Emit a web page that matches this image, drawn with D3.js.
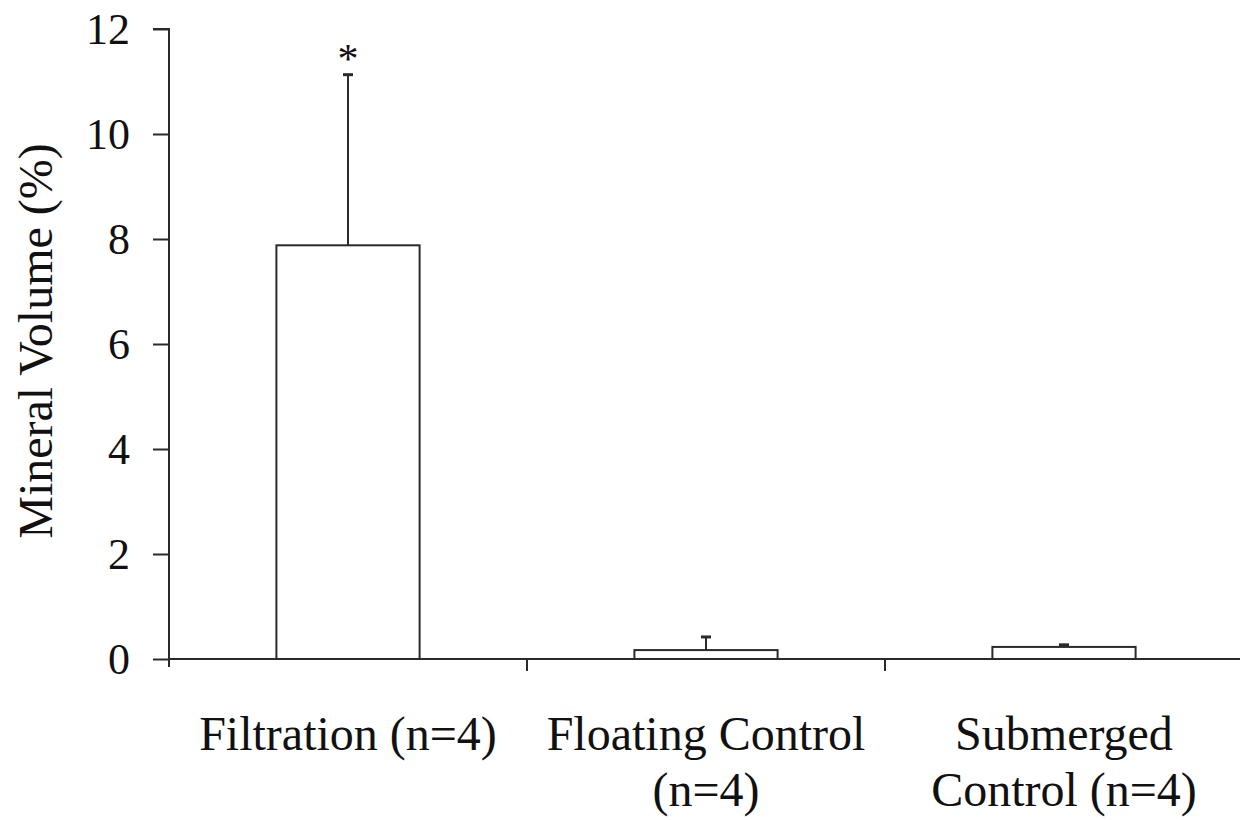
<!DOCTYPE html>
<html><head><meta charset="utf-8">
<script src="https://cdn.jsdelivr.net/npm/d3@7/dist/d3.min.js"></script>
<style>body{margin:0;background:#fff}svg{display:block}</style>
</head><body>
<svg id="c" width="1247" height="820"></svg>
<script>
const categories = ["Filtration (n=4)", "Floating Control (n=4)", "Submerged Control (n=4)"];
const labelLines = [["Filtration (n=4)"], ["Floating Control", "(n=4)"], ["Submerged", "Control (n=4)"]];
const means = [7.88, 0.17, 0.23];
const errors = [3.25, 0.25, 0.04];
const significance = ["*", "", ""];
const yTicks = [0, 2, 4, 6, 8, 10, 12];

(function () {
const svg = d3.select("#c");
const mLeft = 169, mRight = 1243, mTop = 29, mBottom = 659;
const font = "'Liberation Serif', 'Times New Roman', serif";
const ink = "#2a2a2a";

const x = d3.scaleBand().domain(categories).range([mLeft, mRight]).paddingInner(0.6).paddingOuter(0.3);
const y = d3.scaleLinear().domain([0, 12]).range([mBottom, mTop]);

// bars
svg.selectAll("rect.bar").data(categories).join("rect")
  .attr("x", d => x(d)).attr("width", x.bandwidth())
  .attr("y", (d, i) => y(means[i])).attr("height", (d, i) => y(0) - y(means[i]))
  .attr("fill", "#fff").attr("stroke", ink).attr("stroke-width", 2);

// error bars
const cx = d => x(d) + x.bandwidth() / 2;
svg.selectAll("line.err").data(categories).join("line")
  .attr("x1", cx).attr("x2", cx)
  .attr("y1", (d, i) => y(means[i])).attr("y2", (d, i) => y(means[i] + errors[i]))
  .attr("stroke", ink).attr("stroke-width", 2);
svg.selectAll("line.cap").data(categories).join("line")
  .attr("x1", d => cx(d) - 5).attr("x2", d => cx(d) + 5)
  .attr("y1", (d, i) => y(means[i] + errors[i])).attr("y2", (d, i) => y(means[i] + errors[i]))
  .attr("stroke", ink).attr("stroke-width", 3);

// significance
svg.selectAll("text.sig").data(categories).join("text")
  .attr("x", cx).attr("y", (d, i) => y(means[i] + errors[i]) - 2)
  .attr("text-anchor", "middle").attr("font-family", font).attr("font-size", 42)
  .attr("fill", "#111").text((d, i) => significance[i]);

// y axis
const ya = svg.append("g").attr("transform", `translate(${mLeft},0)`)
  .call(d3.axisLeft(y).tickValues(yTicks).tickSize(16).tickPadding(23));
ya.select(".domain").attr("stroke", ink).attr("stroke-width", 2).attr("d", `M-16,${mTop}H0V${mBottom + 8}`);
ya.selectAll(".tick line").attr("stroke", ink).attr("stroke-width", 2);
ya.selectAll(".tick text").attr("font-family", font).attr("font-size", 44).attr("fill", "#111").attr("dy", "0.34em");

// x axis
const bounds = [mLeft, ...categories.map(c => x(c) + x.bandwidth() / 2 + x.step() / 2)];
const xa = svg.append("g");
xa.append("line").attr("x1", mLeft).attr("x2", mRight - 3).attr("y1", mBottom).attr("y2", mBottom)
  .attr("stroke", ink).attr("stroke-width", 2);
xa.selectAll("line.xt").data(bounds.slice(1, 3)).join("line")
  .attr("x1", d => d).attr("x2", d => d).attr("y1", mBottom).attr("y2", mBottom + 12)
  .attr("stroke", ink).attr("stroke-width", 2);

// x labels
categories.forEach((c, i) => {
  const t = svg.append("text").attr("text-anchor", "middle").attr("font-family", font)
    .attr("font-size", 48).attr("fill", "#111");
  labelLines[i].forEach((l, j) => {
    t.append("tspan").attr("x", cx(c)).attr("y", 750 + j * 56).text(l);
  });
});

// y label
svg.append("text").attr("transform", `translate(52,341) rotate(-90)`)
  .attr("text-anchor", "middle").attr("font-family", font).attr("font-size", 48)
  .attr("fill", "#111").text("Mineral Volume (%)");
})();
</script>
</body></html>
